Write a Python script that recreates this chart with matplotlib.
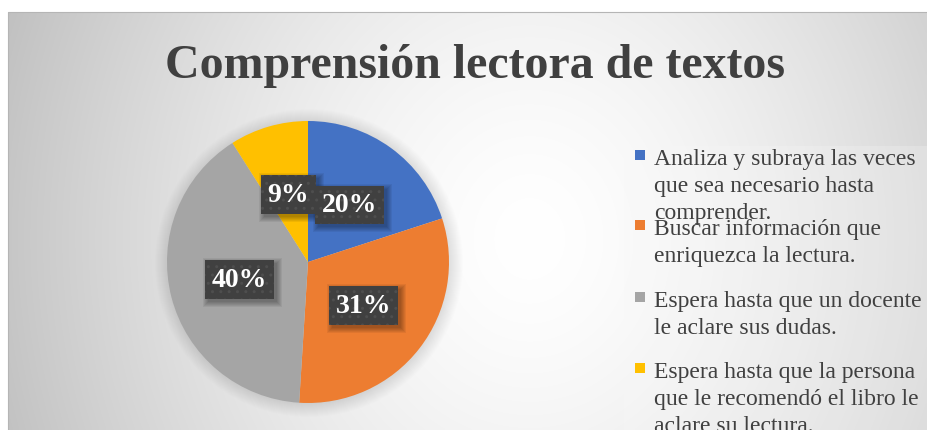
import matplotlib
matplotlib.use('Agg')
import matplotlib.pyplot as plt
from matplotlib.patches import Rectangle, Circle
import numpy as np

# data
title = 'Comprensión lectora de textos'
values = [20, 31, 40, 9]
colors = ['#4472C4', '#ED7D31', '#A5A5A5', '#FFC000']
legend_labels = [
    'Analiza y subraya las veces\nque sea necesario hasta\ncomprender.',
    'Buscar información que\nenriquezca la lectura.',
    'Espera hasta que un docente\nle aclare sus dudas.',
    'Espera hasta que la persona\nque le recomendó el libro le\naclare su lectura.',
]

W, H = 927, 431
fig = plt.figure(figsize=(W / 100, H / 100), dpi=100)
fig.patch.set_facecolor('white')
ax = fig.add_axes([0, 0, 1, 1])

# radial gradient background of the chart area
x0, top = 8, 13
gx = np.linspace(x0, W, 400)
gy = np.linspace(top, H, 200)
X, Y = np.meshgrid(gx, gy)
d = np.sqrt(((X - 530) / 520) ** 2 + ((Y - 240) / 600) ** 2)
v = 1 - 0.22 * np.clip(d, 0, 1.3) ** 1.5
ax.imshow(np.dstack([v, v, v]), extent=(x0, W, 0, H - top), origin='upper',
          aspect='auto', zorder=0, interpolation='bilinear')
ax.add_patch(Rectangle((x0, -2), W, H - top + 2, fill=False,
                       edgecolor='#b5b5b5', linewidth=0.8, zorder=1))

# title
ax.text(475, H - 78, title, ha='center', va='baseline',
        fontsize=34.5, fontweight='bold', family='Liberation Serif', color='#404040')

# pie, with a soft halo behind it
cx, cy, r = 308, H - 263, 141
for k in range(14):
    ax.add_patch(Circle((cx + 1, cy - 1), r + k, facecolor='black',
                        edgecolor='none', alpha=0.008, zorder=1.5))
wedges, texts, autotexts = ax.pie(
    values, colors=colors, startangle=90, counterclock=False,
    center=(cx, cy), radius=r, autopct=lambda p: f'{p:.0f}%', pctdistance=0.5,
    wedgeprops=dict(linewidth=0), frame=True)
for w in wedges:
    w.set_zorder(2)
for t in autotexts:
    t.set_color('white')
    t.set_fontsize(20)
    t.set_fontweight('bold')
    t.set_family('Liberation Serif')
    t.set_zorder(5)
    t.set_bbox(dict(boxstyle='square,pad=0.25', facecolor='#404040',
                    edgecolor='#4e4e4e', linewidth=0, hatch='..'))
ax.set_xlim(0, W)
ax.set_ylim(0, H)
ax.set_aspect('auto')
ax.axis('off')

# soft shadows under the label boxes (axes maps 1 unit to 1 pixel)
fig.canvas.draw()
for t in autotexts:
    bb = t.get_bbox_patch().get_window_extent()
    for k in range(6):
        ax.add_patch(Rectangle((bb.x0 + 3 - k, bb.y0 - 3 - k),
                               bb.width + 2 * k, bb.height + 2 * k,
                               facecolor='black', edgecolor='none',
                               alpha=0.06, zorder=4))

# legend, drawn by hand so the entries keep Excel's fixed spacing
ax.add_patch(Rectangle((624, 0), 303, H - 147, facecolor='#f8f8f8',
                       edgecolor='none', alpha=0.25, zorder=1))
first_base = [165, 235, 307, 378]
line_step = 27
for lab, col, b in zip(legend_labels, colors, first_base):
    ax.add_patch(Rectangle((635, H - b + 4), 10, 10, facecolor=col,
                           edgecolor='none', zorder=3))
    for i, line in enumerate(lab.split('\n')):
        ax.text(654, H - (b + i * line_step), line, ha='left', va='baseline',
                fontsize=17, family='Liberation Serif', color='#404040', zorder=4)

fig.savefig('out.png', dpi=100)
